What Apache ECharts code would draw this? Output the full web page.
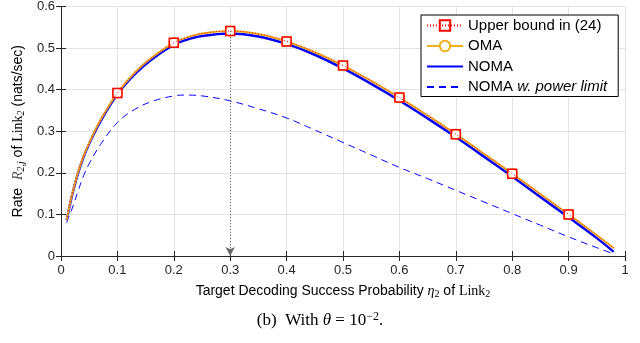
<!DOCTYPE html>
<html><head><meta charset="utf-8">
<script src="https://cdn.jsdelivr.net/npm/echarts@6/dist/echarts.min.js"></script>
<style>html,body{margin:0;padding:0;background:#fff}#c{width:640px;height:343px}</style>
</head><body><div id="c"></div>
<script>
var xs = [0.01,0.015,0.02,0.03,0.04,0.05,0.07,0.1,0.13,0.16,0.2,0.22,0.25,0.3,0.35,0.4,0.45,0.5,0.55,0.6,0.65,0.7,0.75,0.8,0.85,0.9,0.95,0.98];
var upperBound = [0.087,0.12,0.15,0.2,0.24,0.272,0.327,0.392,0.44,0.476,0.513,0.524,0.535,0.541,0.534,0.516,0.49,0.458,0.421,0.381,0.338,0.293,0.246,0.198,0.149,0.100,0.050,0.019];
var oma = [0.087,0.12,0.15,0.2,0.24,0.272,0.327,0.392,0.44,0.476,0.513,0.524,0.535,0.541,0.534,0.516,0.49,0.458,0.421,0.381,0.338,0.293,0.246,0.198,0.149,0.100,0.050,0.019];
var noma = [0.086,0.118,0.148,0.198,0.238,0.27,0.324,0.389,0.436,0.472,0.508,0.519,0.529,0.535,0.528,0.51,0.484,0.451,0.414,0.374,0.331,0.286,0.239,0.191,0.142,0.093,0.043,0.01];
var nomaLimit = [0.08,0.098,0.115,0.155,0.193,0.222,0.268,0.321,0.352,0.371,0.385,0.387,0.385,0.373,0.354,0.332,0.303,0.273,0.243,0.213,0.186,0.158,0.13,0.102,0.074,0.046,0.02,0.005];
var markerXs = [0.1,0.2,0.3,0.4,0.5,0.6,0.7,0.8,0.9];
var names = ['Upper bound in (24)','OMA','NOMA','NOMA w. power limit'];

function pairs(vals, marks){
  return xs.map(function(x,i){
    var d = {value:[x, vals[i]]};
    if (marks && markerXs.indexOf(x) < 0) d.symbol = 'none';
    return d;
  });
}
var sans = 'Liberation Sans, Arial, sans-serif';
var serif = 'Liberation Serif, Times New Roman, serif';
var chart = echarts.init(document.getElementById('c'));
var axLine = {lineStyle:{color:'#262626', width:1}};
chart.setOption({
  animation:false,
  grid:{left:61,right:15,top:5,bottom:87},
  legend:{
    data:[{name:names[0]},{name:names[1]},{name:names[2],itemStyle:{opacity:0}},{name:names[3],itemStyle:{opacity:0}}],
    orient:'vertical', left:421, top:15, padding:[3,11,2,5],
    borderColor:'#000', borderWidth:1, backgroundColor:'#fff',
    itemWidth:36, itemHeight:13, itemGap:5.5,
    formatter:function(n){ return n==='NOMA w. power limit' ? 'NOMA {it|w. power limit}' : n; },
    textStyle:{fontFamily:sans, fontSize:15, color:'#000', rich:{it:{fontStyle:'italic', fontFamily:sans, fontSize:15}}}
  },
  xAxis:[{
    type:'value', min:0, max:1, interval:0.1,
    axisLine:axLine, axisTick:{inside:true,length:5,lineStyle:{color:'#262626'}},
    axisLabel:{fontFamily:sans,fontSize:13,color:'#262626',margin:8, formatter:function(v){return v===0?'0':v===1?'1':String(+v.toFixed(1));}},
    splitLine:{lineStyle:{color:'#e3e3e3',width:1}},
    name:'Target Decoding Success Probability {m|η}{sub|2} of {r|Link}{sub|2}',
    nameLocation:'middle', nameGap:27,
    nameTextStyle:{fontFamily:sans,fontSize:14,color:'#000',
      rich:{m:{fontFamily:serif,fontStyle:'italic',fontSize:14},r:{fontFamily:serif,fontSize:14},sub:{fontFamily:serif,fontSize:10,verticalAlign:'bottom',padding:[6,0,0,0]}}}
  },{
    type:'value', min:0, max:1, interval:0.1, position:'top',
    axisLine:axLine, axisTick:{inside:true,length:5,lineStyle:{color:'#262626'}},
    axisLabel:{show:false}, splitLine:{show:false}
  }],
  yAxis:[{
    type:'value', min:0, max:0.6, interval:0.1,
    axisLine:{show:true,lineStyle:{color:'#262626'}}, axisTick:{show:true,inside:true,length:5,lineStyle:{color:'#262626'}},
    axisLabel:{fontFamily:sans,fontSize:13,color:'#262626',margin:6, formatter:function(v){return v===0?'0':String(+v.toFixed(1));}},
    splitLine:{lineStyle:{color:'#e3e3e3',width:1}},
    name:'Rate  {m|R}{sub|2,j} of {r|Link}{sub|2} (nats/sec)',
    nameLocation:'middle', nameGap:33,
    nameTextStyle:{fontFamily:sans,fontSize:14,color:'#000',
      rich:{m:{fontFamily:serif,fontStyle:'italic',fontSize:14,color:'#555'},r:{fontFamily:serif,fontSize:14},sub:{fontFamily:serif,fontStyle:'italic',fontSize:10,verticalAlign:'bottom',padding:[6,0,0,0]}}}
  },{
    type:'value', min:0, max:0.6, interval:0.1, position:'right',
    axisLine:{show:true,lineStyle:{color:'#262626'}}, axisTick:{show:true,inside:true,length:5,lineStyle:{color:'#262626'}},
    axisLabel:{show:false}, splitLine:{show:false}
  }],
  series:[
    {name:names[3], type:'line', smooth:0.4, symbol:'none', data:pairs(nomaLimit,false), z:2,
     lineStyle:{color:'#0000ff', width:1, type:[7,5]}, itemStyle:{color:'#0000ff'}},
    {name:names[2], type:'line', smooth:0.4, symbol:'none', data:pairs(noma,false), z:3,
     lineStyle:{color:'#0000ff', width:2.5}, itemStyle:{color:'#0000ff'}},
    {name:names[1], type:'line', smooth:0.4, symbol:'circle', symbolSize:10, showAllSymbol:true, data:pairs(oma,true), z:4,
     lineStyle:{color:'#EDB120', width:2}, itemStyle:{color:'#fff', borderColor:'#EDB120', borderWidth:1.2}},
    {name:names[0], type:'line', smooth:0.4, symbol:'rect', symbolSize:9, showAllSymbol:true, data:pairs(upperBound,true), z:5,
     lineStyle:{color:'#ff0000', width:1, type:[1,2]}, itemStyle:{color:'rgba(0,0,0,0)', borderColor:'#ff0000', borderWidth:1.5},
     markLine:{silent:true, symbol:['none','arrow'], symbolSize:[7,9], label:{show:false},
       lineStyle:{color:'#666', type:[1,2], width:1},
       data:[[{coord:[0.3,0.541]},{coord:[0.3,0]}]]}}
  ],
  graphic:[{type:'text', left:'center', top:311, style:{text:'(b)  With {i|θ} = 10{sup|−2}.', fontFamily:serif, fontSize:17, fill:'#000',
    rich:{i:{fontFamily:serif,fontStyle:'italic',fontSize:17},sup:{fontFamily:serif,fontSize:12,verticalAlign:'top',padding:[0,0,8,0]}}}}]
});
</script></body></html>
